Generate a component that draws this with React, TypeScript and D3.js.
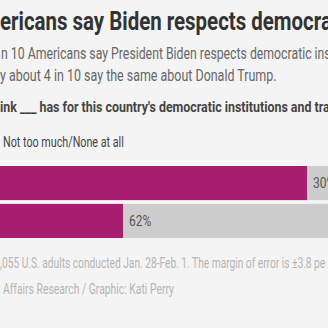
import React from "react";
import * as d3 from "d3";

const W = 328;
const H = 328;

const categories = ["Joe Biden", "Donald Trump"];
const respectValues = [68, 36];
const notMuchValues = [30, 62];
const legendLabels = ["A great deal/Quite a bit", "Not too much/None at all"];

const titleText = "ericans say Biden respects democra";
const subLine1 = "n 10 Americans say President Biden respects democratic ins";
const subLine2 = "y about 4 in 10 say the same about Donald Trump.";
const questionText = "ink ___ has for this country's democratic institutions and tra";
const footLine1 = ",055 U.S. adults conducted Jan. 28-Feb. 1. The margin of error is ±3.8 pe";
const footLine2 = "Affairs Research / Graphic: Kati Perry";

const FONT = "Roboto, 'Noto Sans', sans-serif";
const MAGENTA = "#a81d6f";
const GRAY = "#cdcdcd";

let ctx: CanvasRenderingContext2D | null = null;
function measure(text: string, size: number, weight: number | string) {
  if (!ctx) ctx = document.createElement("canvas").getContext("2d");
  if (!ctx) return text.length * size * 0.5;
  ctx.font = `${weight} ${size}px Roboto`;
  return ctx.measureText(text).width;
}

function FitText(props: {
  text: string;
  x: number;
  y: number;
  width: number;
  size: number;
  weight?: number | string;
  fill: string;
}) {
  const { text, x, y, width, size, weight = 400, fill } = props;
  const s = width / measure(text, size, weight);
  return (
    <text
      transform={`translate(${x},${y}) scale(${s},1)`}
      fontFamily={FONT}
      fontSize={size}
      fontWeight={weight}
      fill={fill}
    >
      {text}
    </text>
  );
}

export default function App() {
  const x = d3.scaleLinear().domain([0, 100]).range([-84, 491]);
  const y = d3.scaleBand<string>().domain(categories).range([166, 238]).paddingInner(0.1);

  return (
    <div style={{ position: "fixed", left: 0, top: 0, width: W, height: H }}>
      <svg width={W} height={H} style={{ display: "block" }}>
        <rect width={W} height={H} fill="#f4f4f4" />
        <FitText text={titleText} x={0} y={30} width={332} size={25} weight={700} fill="#333" />
        <FitText text={subLine1} x={1} y={59} width={330} size={16.5} fill="#666" />
        <FitText text={subLine2} x={0} y={81} width={277} size={16.5} fill="#666" />
        <FitText text={questionText} x={0} y={112} width={330} size={15} weight={700} fill="#444" />
        <g>
          <rect x={-14} y={136} width={11} height={11} fill={GRAY} />
          <FitText text={legendLabels[1]} x={3} y={147} width={121} size={14.5} fill="#444" />
        </g>
        {categories.map((c, i) => {
          const y0 = y(c) as number;
          const bh = y.bandwidth();
          const xm = x(respectValues[i]);
          const xe = x(respectValues[i] + notMuchValues[i]);
          return (
            <g key={c}>
              <rect x={x(0)} y={y0} width={xm - x(0)} height={bh} fill={MAGENTA} />
              <rect x={xm} y={y0} width={Math.max(xe, W + 10) - xm} height={bh} fill={GRAY} />
              <text
                x={xm + 6}
                y={y0 + bh / 2 + 5}
                fontFamily={FONT}
                fontSize={15}
                fill="#555"
                transform={`translate(${(xm + 6) * 0.2},0) scale(0.8,1)`}
              >
                {notMuchValues[i]}%
              </text>
            </g>
          );
        })}
        <FitText text={footLine1} x={0} y={268} width={326} size={14.5} fill="#b4b4b4" />
        <FitText text={footLine2} x={3} y={294} width={171} size={14.5} fill="#b4b4b4" />
      </svg>
    </div>
  );
}
